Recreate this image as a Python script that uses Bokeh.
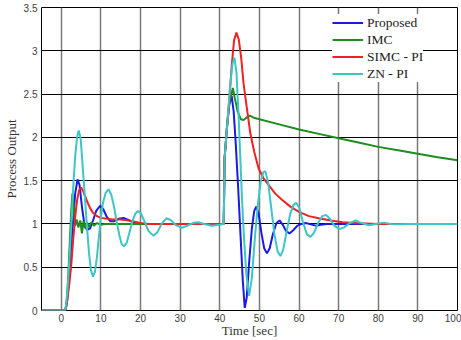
from bokeh.plotting import figure
from bokeh.models import Range1d, FixedTicker, Legend, LegendItem
from bokeh.embed import file_html
from bokeh.resources import INLINE

# Closed-loop responses: setpoint step at t = 0, load disturbance at t = 40 (1 s dead time)
proposed_t = [-5, 1, 1.5, 2, 2.5, 3, 3.5, 4.1, 4.6, 5.2, 5.8, 6.5, 7.3, 8, 8.8, 9.8, 10.6, 11.5,
              12.4, 13.3, 14.5, 15.7, 16.8, 18, 20, 41, 41.2, 41.8, 42.4, 43.0, 43.5, 44.0, 44.6,
              45.2, 45.8, 46.3, 46.8, 47.4, 48.1, 48.7, 49.2, 49.8, 50.5, 51.2, 51.9, 52.6, 53.4,
              54.3, 55.1, 55.9, 56.7, 57.6, 58.6, 59.6, 60.6, 61.7, 63, 64.2, 65.5, 67, 100]
proposed_y = [0, 0, 0.12, 0.4, 0.75, 1.05, 1.35, 1.515, 1.45, 1.2, 1.0, 0.93, 0.95, 1.04, 1.15, 1.21,
              1.17, 1.08, 1.03, 1.03, 1.06, 1.07, 1.05, 1.02, 1.0, 1.0, 1.75, 2.12, 2.38, 2.48, 2.3,
              1.95, 1.45, 0.9, 0.35, 0.03, 0.15, 0.55, 0.95, 1.15, 1.2, 1.12, 0.9, 0.72, 0.66, 0.72,
              0.88, 1.01, 1.04, 0.99, 0.92, 0.89, 0.93, 0.98, 1.0, 1.01, 0.995, 0.98, 0.99, 1.0, 1.0]

imc_t = [-5, 1, 1.3, 1.7, 2.1, 2.5, 2.8, 3.1, 3.5, 3.9, 4.3, 4.8, 5.2, 5.6, 6.0, 6.5, 7.0, 7.6,
         8.2, 9, 10, 11, 41, 41.2, 41.8, 42.4, 43.3, 43.8, 44.5, 45.3, 46, 46.8, 47.6, 48.4, 50,
         55, 60, 65, 70, 75, 80, 85, 90, 95, 100]
imc_y = [0, 0, 0.05, 0.35, 0.75, 1.15, 1.35, 1.2, 0.98, 1.05, 0.96, 1.04, 0.89, 1.03, 0.95, 1.02,
         0.96, 1.02, 0.98, 1.01, 0.99, 1.0, 1.0, 1.75, 2.1, 2.4, 2.57, 2.45, 2.3, 2.21, 2.2, 2.23,
         2.25, 2.23, 2.21, 2.15, 2.09, 2.04, 1.99, 1.94, 1.89, 1.85, 1.81, 1.77, 1.735]

simc_t = [-5, 1, 1.5, 2, 2.5, 3, 3.5, 4, 4.5, 5, 5.5, 6, 6.6, 7.3, 8, 9, 10, 11.5, 13, 15, 17, 20,
          22, 41, 41.2, 41.8, 42.5, 43, 43.6, 44.2, 44.8, 45.4, 46, 46.8, 47.7, 48.7, 49.8, 51,
          52.3, 54, 55.7, 57.8, 60, 62.5, 65, 68, 71, 75, 80, 100]
simc_y = [0, 0, 0.12, 0.3, 0.52, 0.82, 1.08, 1.28, 1.39, 1.42, 1.38, 1.32, 1.25, 1.18, 1.13, 1.09,
          1.07, 1.06, 1.05, 1.05, 1.04, 1.01, 1.0, 1.0, 1.75, 2.1, 2.5, 2.82, 3.12, 3.21, 3.13,
          2.92, 2.62, 2.35, 2.05, 1.83, 1.64, 1.53, 1.45, 1.35, 1.28, 1.2, 1.14, 1.09, 1.065, 1.04,
          1.02, 1.008, 1.0, 1.0]

zn_t = [-5, 1, 1.5, 2, 2.5, 3, 3.5, 4, 4.4, 4.9, 5.5, 6, 6.5, 7, 7.5, 8, 8.5, 9, 9.5, 10, 10.5,
        11.2, 11.9, 12.6, 13.3, 14, 14.7, 15.2, 15.8, 16.5, 17.2, 18, 18.7, 19.4, 20.1, 21, 22,
        23.2, 24.2, 25.3, 26.5, 27.6, 28.8, 30.4, 32, 33.5, 34.6, 36, 38, 40, 41, 41.2, 41.8,
        42.6, 43.2, 43.7, 44.2, 44.7, 45.1, 45.6, 46.1, 46.7, 47.4, 48.1, 48.9, 49.6, 50.3, 51.0,
        51.5, 52.2, 53, 53.8, 54.6, 55.3, 56.0, 56.9, 57.8, 58.6, 59.3, 60.1, 61.0, 62.0, 62.9,
        63.8, 64.9, 65.9, 66.8, 67.8, 68.9, 70.2, 71.4, 72.8, 74.3, 75.8, 77.6, 79.4, 81.3, 83.2,
        85.2, 87.5, 100]
zn_y = [0, 0, 0.2, 0.55, 0.98, 1.42, 1.78, 2.01, 2.08, 1.98, 1.6, 1.28, 0.95, 0.66, 0.46, 0.39,
        0.45, 0.62, 0.86, 1.08, 1.24, 1.36, 1.4, 1.34, 1.2, 1.02, 0.86, 0.77, 0.74, 0.78, 0.9,
        1.04, 1.12, 1.15, 1.12, 1.03, 0.92, 0.865, 0.9, 1.0, 1.065, 1.045, 0.99, 0.955, 0.985,
        1.015, 1.02, 1.0, 0.98, 0.99, 1.0, 1.75, 2.1, 2.59, 2.85, 2.92, 2.75, 2.3, 1.85, 1.3,
        0.85, 0.42, 0.17, 0.38, 0.86, 1.22, 1.48, 1.6, 1.61, 1.48, 1.18, 0.88, 0.68, 0.63, 0.7,
        0.92, 1.12, 1.22, 1.245, 1.18, 1.02, 0.88, 0.85, 0.9, 1.02, 1.09, 1.105, 1.06, 0.98, 0.94,
        0.96, 1.01, 1.04, 1.01, 0.985, 1.0, 1.015, 1.0, 0.995, 1.0, 1.0]

x_ticks = [0, 10, 20, 30, 40, 50, 60, 70, 80, 90, 100]
x_tick_labels = ["0", "10", "20", "30", "40", "50", "60", "70", "80", "90", "100"]
y_ticks = [0, 0.5, 1, 1.5, 2, 2.5, 3, 3.5]
y_tick_labels = ["0", "0.5", "1", "1.5", "2", "2.5", "3", "3.5"]

p = figure(width=461, height=340, output_backend="svg", toolbar_location=None,
           x_range=Range1d(-5, 100), y_range=Range1d(0, 3.5),
           min_border_left=40, min_border_right=4, min_border_top=7, min_border_bottom=29)
p.background_fill_color = "white"
p.border_fill_color = "white"
p.outline_line_color = "black"
p.outline_line_width = 1
p.outline_line_alpha = 1

tick_font = "Liberation Sans"
label_font = "Liberation Serif"

p.xaxis.ticker = FixedTicker(ticks=x_ticks)
p.yaxis.ticker = FixedTicker(ticks=y_ticks)
p.xaxis.major_label_overrides = dict(zip(x_ticks, x_tick_labels))
p.yaxis.major_label_overrides = dict(zip(y_ticks, y_tick_labels))

for ax in (p.xaxis, p.yaxis):
    ax.axis_line_color = None
    ax.major_tick_in = 0
    ax.major_tick_out = 0
    ax.minor_tick_line_color = None
    ax.major_label_text_font = tick_font
    ax.major_label_text_font_size = "10px"
    ax.major_label_text_color = "#404040"
    ax.axis_label_text_font = label_font
    ax.axis_label_text_font_size = "13px"
    ax.axis_label_text_font_style = "normal"
    ax.axis_label_text_color = "#333333"

p.xaxis.axis_label = "Time [sec]"
p.yaxis.axis_label = "Process Output"
p.xaxis.major_label_standoff = 3
p.xaxis.axis_label_standoff = -2
p.yaxis.major_label_standoff = 4
p.yaxis.axis_label_standoff = 2

p.xgrid.grid_line_color = "#7a7a7a"
p.xgrid.grid_line_width = 1.5
p.ygrid.grid_line_color = "black"
p.ygrid.grid_line_width = 1

series = [
    ("Proposed", proposed_t, proposed_y, "#1a1ae6"),
    ("IMC", imc_t, imc_y, "#1e8c1e"),
    ("SIMC - PI", simc_t, simc_y, "#ee2222"),
    ("ZN - PI", zn_t, zn_y, "#3cc6c6"),
]
items = []
for name, t, y, color in series:
    r = p.line(t, y, line_color=color, line_width=2)
    items.append(LegendItem(label=name, renderers=[r]))

legend = Legend(items=items, location=(291, 228),
                label_text_font=label_font, label_text_font_size="13.5px",
                label_text_color="#222222",
                glyph_width=31, glyph_height=17, label_height=17, label_standoff=4,
                spacing=0, padding=3, margin=0,
                border_line_color=None, background_fill_color="white",
                background_fill_alpha=1)
p.add_layout(legend)

open("out.html", "w").write(file_html(p, INLINE))
